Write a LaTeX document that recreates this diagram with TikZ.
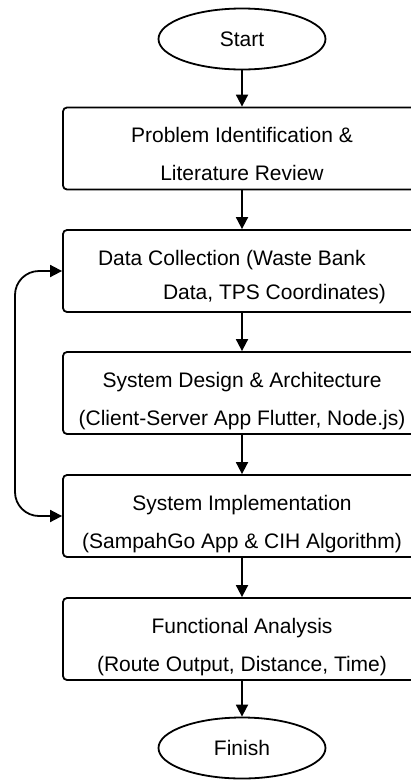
\documentclass[tikz,border=0pt]{standalone}
\usepackage{fontspec}
\setmainfont{Liberation Sans}
\usetikzlibrary{arrows.meta,shapes.geometric}

\tikzset{
  stage/.style={draw, line width=1.8pt, rounded corners=4pt, minimum width=358pt,
    minimum height=82pt, align=center, font=\fontsize{21}{38}\selectfont,
    text height=69pt, text depth=5pt},
  terminal/.style={draw, ellipse, line width=1.8pt, minimum width=167pt,
    minimum height=61pt, font=\fontsize{21}{38}\selectfont},
  flow/.style={line width=1.8pt, -{Triangle[width=12pt,length=12pt]}},
  loop/.style={line width=1.8pt, {Triangle[width=12pt,length=12pt]}-{Triangle[width=12pt,length=12pt]},
    rounded corners=24pt}
}

\begin{document}
\begin{tikzpicture}[x=1pt,y=-1pt]
\useasboundingbox (0,0) rectangle (411,780);
\node [terminal] (start) at (242,39) {Start};
\node [stage] (ident) at (242,148.5) {Problem Identification \&\\Literature Review};
\node [stage, align=left, font=\fontsize{21}{34}\selectfont, text height=62pt] (collect) at (242,271) {Data Collection (Waste Bank\\\hspace*{65pt}Data, TPS Coordinates)};
\node [stage] (design) at (242,393) {System Design \& Architecture\\(Client-Server App Flutter, Node.js)};
\node [stage] (implement) at (242,516) {System Implementation\\(SampahGo App \& CIH Algorithm)};
\node [stage] (analysis) at (242,639) {Functional Analysis\\(Route Output, Distance, Time)};
\node [terminal] (finish) at (242,748) {Finish};
% main sequence
\draw [flow] (start) -- (ident);
\draw [flow] (ident) -- (collect);
\draw [flow] (collect) -- (design);
\draw [flow] (design) -- (implement);
\draw [flow] (implement) -- (analysis);
\draw [flow] (analysis) -- (finish);
% feedback between collection and implementation
\coordinate (side) at (15,0);
\draw [loop] (collect.west) -- (collect.west -| side) -- (implement.west -| side) -- (implement.west);
\end{tikzpicture}
\end{document}
